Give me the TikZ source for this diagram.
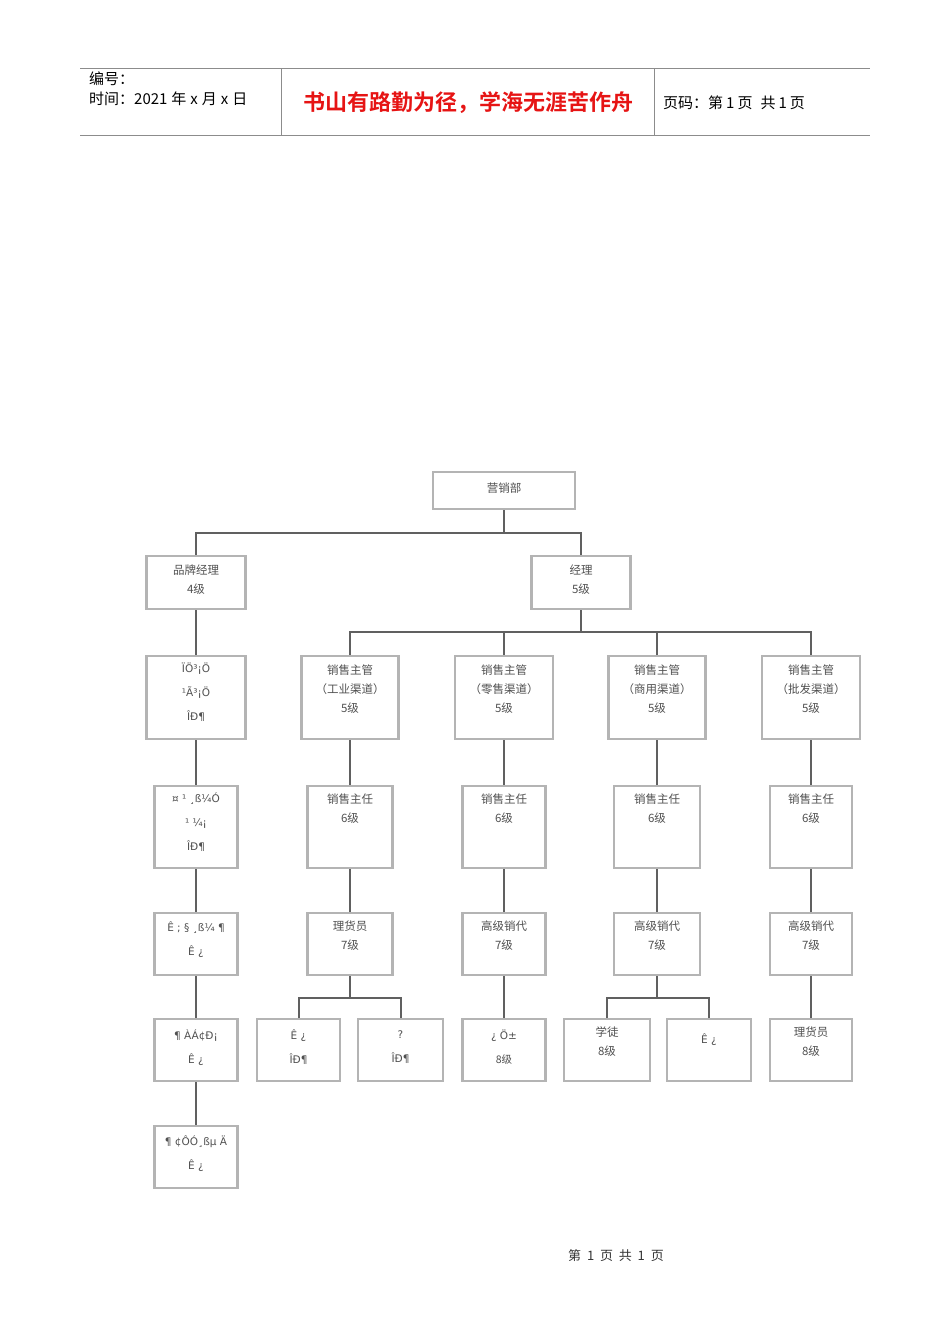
\documentclass[tikz,border=0pt]{standalone}
\usepackage{fontspec}
\setmainfont{Liberation Sans}
\newfontfamily\cjk{Noto Sans CJK SC}[BoldFont={Noto Sans CJK SC Bold}]
\newfontfamily\moji{DejaVu Sans}
\definecolor{boxgray}{HTML}{B4B4B4}
\definecolor{linegray}{HTML}{606060}
\definecolor{hdrgray}{HTML}{8C8C8C}
\definecolor{txtgray}{HTML}{505050}
\tikzset{
  box/.style={draw=boxgray, line width=2.6pt, fill=white, inner sep=0pt, rectangle},
  conn/.style={draw=linegray, line width=2.6pt},
  thinconn/.style={draw=linegray, line width=2pt},
  lab/.style={inner sep=0pt, align=center, text=txtgray, font=\cjk\fontsize{11.5}{19}\selectfont},
  mlab/.style={inner sep=0pt, align=center, text=txtgray, font=\moji\fontsize{10.5}{24}\selectfont},
  hdr/.style={inner sep=0pt, anchor=west, font=\cjk\fontsize{15}{20}\selectfont}
}
\newcommand\bx[5]{\node[box, minimum width=#4pt, minimum height=#5pt] (#1) at (#2,#3) {};}
\begin{document}
\begin{tikzpicture}[x=1pt,y=-1pt]
\useasboundingbox (0,0) rectangle (950,1344);
% header
\draw[hdrgray, line width=1pt] (80,68) -- (870,68);
\draw[hdrgray, line width=1.6pt] (80,135.5) -- (870,135.5);
\draw[hdrgray, line width=1pt] (281,68) -- (281,135);
\draw[hdrgray, line width=1pt] (654,68) -- (654,135);
\node[hdr] (h1) at (89,79) {编号：};
\node[hdr] (h2) at (89,99) {时间：2021\hspace{4pt}年\hspace{4pt}x\hspace{4pt}月\hspace{4pt}x\hspace{4pt}日};
\node[inner sep=0pt, text={rgb,255:red,230;green,20;blue,20}, font=\cjk\bfseries\fontsize{22}{24}\selectfont] (h3) at (468,103) {书山有路勤为径，学海无涯苦作舟};
\node[hdr] (h4) at (663,103) {页码：第\hspace{3pt}1\hspace{3pt}页\hspace{8pt}共\hspace{3pt}1\hspace{3pt}页};
% footer
\node[inner sep=0pt, font=\cjk\fontsize{13}{14}\selectfont, text=black!80] (foot) at (616,1256) {第\ \ 1\ \ 页\ \ 共\ \ 1\ \ 页};

% boxes
\bx{top}{504}{490.5}{142}{37}
\bx{pp}{196}{582.5}{99}{53}
\bx{rb}{581}{582.5}{99}{53}
\bx{L1}{196}{697.5}{99}{83}
\bx{L2}{196}{827}{83}{82}
\bx{L3}{196}{944}{83}{62}
\bx{L4}{196}{1050}{83}{62}
\bx{L5}{196}{1157}{83}{62}
\bx{A2}{350}{697.5}{97}{83}
\bx{B2}{504}{697.5}{98}{83}
\bx{C2}{657}{697.5}{97}{83}
\bx{D2}{811}{697.5}{98}{83}
\bx{A3}{350}{827}{85}{82}
\bx{B3}{504}{827}{83}{82}
\bx{C3}{657}{827}{86}{82}
\bx{D3}{811}{827}{82}{82}
\bx{A4}{350}{944}{85}{62}
\bx{B4}{504}{944}{83}{62}
\bx{C4}{657}{944}{86}{62}
\bx{D4}{811}{944}{82}{62}
\bx{A5a}{298.5}{1050}{83}{62}
\bx{A5b}{400.5}{1050}{85}{62}
\bx{B5}{504}{1050}{83}{62}
\bx{C5a}{607}{1050}{86}{62}
\bx{C5b}{709}{1050}{84}{62}
\bx{D5}{811}{1050}{82}{62}

% connectors
\coordinate (j1) at (504,533);
\coordinate (j2) at (581,632);
\coordinate (j3) at (350,998);
\coordinate (j4) at (657,998);
\draw[conn] (top.south) -- (j1);
\draw[conn] (pp.north) |- (j1) -| (rb.north);
\draw[conn] (rb.south) -- (j2);
\draw[conn] (A2.north) |- (j2) -| (D2.north);
\draw[conn] (B2.north) -- (B2.north |- j2);
\draw[conn] (C2.north) -- (C2.north |- j2);
\draw[conn] (pp.south) -- (L1.north);
\draw[conn] (L1.south) -- (L2.north);
\draw[conn] (L2.south) -- (L3.north);
\draw[conn] (L3.south) -- (L4.north);
\draw[conn] (L4.south) -- (L5.north);
\foreach \c in {A,B,C,D}{
  \draw[conn] (\c2.south) -- (\c3.north);
  \draw[conn] (\c3.south) -- (\c4.north);
}
\draw[conn] (B4.south) -- (B5.north);
\draw[conn] (D4.south) -- (D5.north);
\draw[conn] (A4.south) -- (j3);
\draw[thinconn] (A5a.north) |- (j3) -| (A5b.north);
\draw[conn] (C4.south) -- (j4);
\draw[thinconn] (C5a.north) |- (j4) -| (C5b.north);

% labels
\node[lab] (t-top) at (504,488) {营销部};
\node[lab] (t-pp) at (196,580) {品牌经理\\4级};
\node[lab] (t-rb) at (581,580) {经理\\5级};
\node[mlab, anchor=north] (t-L1) at (196,663) {ÏÖ³¡Ö\\¹Ã³¡Ö\\ÎÐ¶};
\node[mlab, anchor=north] (t-L2) at (196,793) {¤ ¹ ¸ß¼Ó\\¹ ¼¡\\ÎÐ¶};
\node[mlab, anchor=north] (t-L3) at (196,922) {Ê ; § ¸ß¼ ¶\\Ê ¿};
\node[mlab, anchor=north] (t-L4) at (196,1030) {¶ ÀÁ¢Ð¡\\Ê ¿};
\node[mlab, anchor=north] (t-L5) at (196,1136) {¶ ¢ÔÓ¸ßµ Ä\\Ê ¿};
\node[lab, anchor=north] (t-A2) at (350,665) {销售主管\\（工业渠道）\\5级};
\node[lab, anchor=north] (t-B2) at (504,665) {销售主管\\（零售渠道）\\5级};
\node[lab, anchor=north] (t-C2) at (657,665) {销售主管\\（商用渠道）\\5级};
\node[lab, anchor=north] (t-D2) at (811,665) {销售主管\\（批发渠道）\\5级};
\foreach \c in {A,B,C,D}{
  \node[lab, anchor=north] (t-\c3) at (\c3.north |- 0,794) {销售主任\\6级};
}
\node[lab, anchor=north] (t-A4) at (350,921) {理货员\\7级};
\node[lab, anchor=north] (t-B4) at (504,921) {高级销代\\7级};
\node[lab, anchor=north] (t-C4) at (657,921) {高级销代\\7级};
\node[lab, anchor=north] (t-D4) at (811,921) {高级销代\\7级};
\node[mlab, anchor=north] (t-A5a) at (298.5,1030) {Ê ¿\\ÎÐ¶};
\node[mlab, anchor=north] (t-A5b) at (400.5,1030) {?\\ÎÐ¶};
\node[mlab, anchor=north] (t-B5) at (504,1030) {¿ Ö±\\\cjk 8级};
\node[lab, anchor=north] (t-C5a) at (607,1027) {学徒\\8级};
\node[mlab] (t-C5b) at (709,1040) {Ê ¿};
\node[lab, anchor=north] (t-D5) at (811,1027) {理货员\\8级};
\end{tikzpicture}
\end{document}
